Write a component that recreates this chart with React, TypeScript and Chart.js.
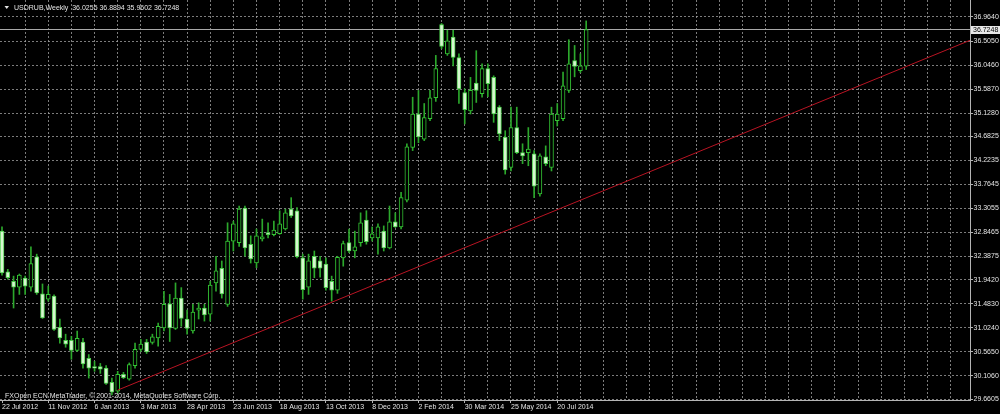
import React, { useEffect, useRef } from 'react';
import { Chart, registerables } from 'chart.js';

Chart.register(...registerables);

// Weekly USDRUB candles, oldest first (bar index = array index)
const opens = [
  32.87, 32.09, 31.91, 31.80, 31.97, 31.80, 32.38, 31.67, 31.57, 31.63,
  31.03, 30.78, 30.78, 30.59, 30.75, 30.44, 30.28, 30.28, 30.25, 29.98,
  29.81, 30.13, 30.04, 30.30, 30.61, 30.75, 30.74, 30.83, 31.02, 31.48,
  31.01, 31.59, 31.19, 30.96, 31.36, 31.40, 31.28, 31.88, 32.16, 31.47,
  32.68, 32.65, 33.31, 32.62, 32.26, 32.72, 32.84, 32.80, 32.82, 32.91,
  33.29, 33.26, 32.36, 31.80, 32.39, 32.30, 32.24, 31.91, 31.74, 32.36,
  32.65, 32.49, 32.65, 33.08, 32.74, 32.74, 32.87, 32.55, 33.05, 32.95,
  33.46, 34.47, 35.11, 34.63, 35.02, 35.42, 36.82, 36.26, 36.58, 36.19,
  35.52, 35.17, 35.70, 35.50, 35.98, 35.81, 35.24, 34.67, 34.09, 34.85,
  34.37, 34.37, 34.35, 33.58, 34.29, 34.09, 34.98, 35.02, 35.56, 36.13,
  35.94, 36.0255,
];
const highs = [
  32.95, 32.14, 32.01, 32.05, 32.01, 32.57, 32.43, 31.86, 31.82, 31.65,
  31.19, 30.90, 30.86, 30.96, 30.82, 30.51, 30.38, 30.34, 30.30, 30.06,
  30.19, 30.17, 30.35, 30.73, 30.80, 30.80, 30.90, 31.11, 31.72, 31.66,
  31.88, 31.79, 31.36, 31.47, 31.50, 31.47, 31.91, 32.39, 32.30, 33.03,
  33.06, 33.35, 33.35, 32.78, 32.91, 33.10, 33.03, 33.06, 33.26, 33.29,
  33.51, 33.32, 32.43, 32.43, 32.49, 32.39, 32.36, 32.01, 32.39, 32.68,
  32.91, 32.87, 33.22, 33.26, 32.95, 33.01, 32.97, 33.35, 33.22, 33.61,
  34.54, 35.43, 35.56, 35.31, 35.56, 36.23, 36.84, 36.71, 36.71, 36.26,
  35.59, 35.81, 36.32, 36.07, 36.07, 35.84, 35.27, 34.79, 35.24, 35.24,
  34.54, 34.85, 34.41, 34.35, 34.50, 35.24, 35.31, 35.91, 36.53, 36.42,
  36.26, 36.8894,
];
const lows = [
  32.03, 31.95, 31.40, 31.66, 31.66, 31.72, 31.66, 31.20, 31.53, 30.97,
  30.73, 30.65, 30.42, 30.57, 30.25, 30.06, 30.19, 30.15, 29.94, 29.74,
  29.77, 30.05, 30.02, 30.25, 30.57, 30.53, 30.71, 30.67, 30.96, 30.76,
  30.99, 31.05, 30.90, 30.92, 31.19, 31.15, 31.15, 31.72, 31.59, 31.43,
  32.49, 32.58, 32.39, 32.26, 32.17, 32.68, 32.74, 32.78, 32.81, 32.89,
  33.13, 32.36, 31.57, 31.66, 31.98, 31.99, 31.74, 31.53, 31.68, 32.20,
  32.46, 32.36, 32.58, 32.62, 32.68, 32.43, 32.49, 32.53, 32.94, 32.91,
  33.43, 34.41, 34.56, 34.60, 34.98, 35.35, 36.36, 36.23, 36.03, 35.31,
  34.92, 35.11, 35.33, 35.43, 35.44, 34.95, 34.60, 33.96, 34.02, 34.35,
  34.16, 34.12, 33.51, 33.54, 34.12, 34.02, 34.88, 34.98, 35.52, 35.82,
  35.90, 35.9602,
];
const closes = [
  32.07, 31.98, 31.80, 32.03, 31.82, 32.25, 31.69, 31.21, 31.66, 30.99,
  30.83, 30.71, 30.59, 30.82, 30.33, 30.25, 30.25, 30.23, 29.96, 29.79,
  30.13, 30.07, 30.32, 30.61, 30.71, 30.56, 30.85, 31.05, 31.47, 31.02,
  31.59, 31.20, 31.01, 31.32, 31.40, 31.27, 31.84, 32.11, 31.67, 32.68,
  33.01, 33.29, 32.55, 32.34, 32.78, 32.76, 32.80, 32.89, 33.01, 33.22,
  33.16, 32.38, 31.75, 32.30, 32.16, 32.16, 31.79, 31.74, 32.37, 32.63,
  32.49, 32.57, 33.03, 32.67, 32.82, 32.95, 32.55, 33.05, 32.95, 33.51,
  34.48, 35.11, 34.67, 35.04, 35.42, 35.98, 36.40, 36.51, 36.19, 35.59,
  35.19, 35.56, 35.56, 35.98, 35.69, 35.11, 34.73, 34.04, 34.85, 34.37,
  34.31, 34.44, 33.73, 34.31, 34.16, 35.11, 35.11, 35.65, 36.07, 36.02,
  36.03, 36.7248,
];

// Time axis: labelled bars and their dates
const xTickBars = [0, 8, 16, 24, 32, 40, 48, 56, 64, 72, 80, 88, 96];
const xTickLabels = [
  '22 Jul 2012', '11 Nov 2012', '6 Jan 2013', '3 Mar 2013', '28 Apr 2013',
  '23 Jun 2013', '18 Aug 2013', '13 Oct 2013', '8 Dec 2013', '2 Feb 2014',
  '30 Mar 2014', '25 May 2014', '20 Jul 2014',
];
const xGridStep = 4;
const xGridLast = 164;

// Price axis tick values
const yTickValues = [
  36.9640, 36.5050, 36.0460, 35.5870, 35.1280, 34.6825, 34.2235, 33.7645,
  33.3055, 32.8465, 32.3875, 31.9420, 31.4830, 31.0240, 30.5650, 30.1060, 29.6605,
];

// Trend line (bar index, price) and current price
const trendBars = [20, 167.4];
const trendPrices = [29.83, 36.52];
const currentPrice = 36.7248;

const titleText = 'USDRUB,Weekly  36.0255 36.8894 35.9602 36.7248';
const copyrightText = 'FXOpen ECN MetaTrader, \u00A9 2001-2014, MetaQuotes Software Corp.';

const X_MIN = -0.3458;
const X_MAX = 167.36;
const Y_MIN = 29.6414;
const Y_MAX = 37.289;

const FONT = '"Liberation Sans", Arial, sans-serif';
const GRID = 'rgba(165,165,165,0.75)';
const AXIS = '#b4b4b4';
const TEXT = '#e4e4e4';

export default function App() {
  const ref = useRef<HTMLCanvasElement>(null);

  useEffect(() => {
    const canvas = ref.current;
    if (!canvas) return;

    const wicks: any[] = [];
    const bull: any[] = [];
    const bear: any[] = [];
    opens.forEach((o, i) => {
      const c = closes[i];
      wicks.push({ x: i, y: [lows[i], highs[i]] });
      if (c >= o) bull.push({ x: i, y: [o, c] });
      else bear.push({ x: i, y: [o, c] });
    });

    const overlay = {
      id: 'mt4overlay',
      afterDraw(chart: any) {
        const ctx = chart.ctx;
        const ys = chart.scales.y;
        const area = chart.chartArea;
        ctx.save();
        // title
        ctx.fillStyle = TEXT;
        ctx.beginPath();
        ctx.moveTo(4.5, 6);
        ctx.lineTo(9, 6);
        ctx.lineTo(6.75, 9);
        ctx.closePath();
        ctx.fill();
        ctx.font = `7px ${FONT}`;
        ctx.textBaseline = 'alphabetic';
        ctx.textAlign = 'left';
        ctx.fillText(titleText, 14, 9.8);
        ctx.fillText(copyrightText, 5, 397.5);
        // current price box
        const py = Math.round(ys.getPixelForValue(currentPrice));
        ctx.fillStyle = '#e8e8e8';
        ctx.fillRect(area.right + 1, py - 4, 1000 - area.right - 1, 8);
        ctx.fillStyle = '#000';
        ctx.textBaseline = 'middle';
        ctx.fillText(currentPrice.toFixed(4), area.right + 3, py + 0.5);
        ctx.restore();
      },
    };

    const chart = new Chart(canvas, {
      type: 'bar',
      data: {
        datasets: [
          {
            type: 'line',
            data: [
              { x: trendBars[0], y: trendPrices[0] },
              { x: trendBars[1], y: trendPrices[1] },
            ],
            borderColor: 'rgb(185,20,35)',
            borderWidth: 1,
            pointRadius: 0,
            order: 0,
          } as any,
          {
            data: bear,
            backgroundColor: '#d6f7cf',
            borderColor: '#4ccc4c',
            borderWidth: 1,
            borderSkipped: false,
            barThickness: 4,
            grouped: false,
            order: 1,
          } as any,
          {
            data: bull,
            backgroundColor: '#000000',
            borderColor: '#33c433',
            borderWidth: 1,
            borderSkipped: false,
            barThickness: 4,
            grouped: false,
            order: 1,
          } as any,
          {
            data: wicks,
            backgroundColor: '#2ca82c',
            borderWidth: 0,
            barThickness: 1,
            grouped: false,
            order: 2,
          } as any,
          {
            type: 'line',
            data: [
              { x: X_MIN, y: currentPrice },
              { x: X_MAX, y: currentPrice },
            ],
            borderColor: '#a8a8a8',
            borderWidth: 1,
            pointRadius: 0,
            order: 3,
          } as any,
        ],
      },
      options: {
        animation: false,
        responsive: false,
        devicePixelRatio: 1,
        events: [],
        layout: { padding: 0 },
        plugins: { legend: { display: false }, tooltip: { enabled: false }, title: { display: false } },
        scales: {
          x: {
            type: 'linear',
            min: X_MIN,
            max: X_MAX,
            offset: false,
            position: 'bottom',
            afterBuildTicks: (scale: any) => {
              const t: any[] = [];
              for (let v = 0; v <= xGridLast; v += xGridStep) t.push({ value: v });
              scale.ticks = t;
            },
            afterFit: (scale: any) => {
              scale.height = 14;
              scale.paddingLeft = 0;
              scale.paddingRight = 0;
            },
            grid: {
              offset: false,
              color: (c: any) => (c.tick && c.tick.value === 0 ? 'rgba(0,0,0,0)' : GRID),
              lineWidth: 1,
              tickLength: 3,
              tickColor: (c: any) => (c.tick && xTickBars.indexOf(c.tick.value) >= 0 ? AXIS : 'rgba(0,0,0,0)'),
            },
            border: { display: true, color: AXIS, width: 1, dash: [2, 2] },
            ticks: {
              autoSkip: false,
              maxRotation: 0,
              minRotation: 0,
              align: 'start',
              padding: 0,
              color: TEXT,
              font: { family: FONT, size: 7 },
              callback: (v: any) => {
                const k = xTickBars.indexOf(Number(v));
                return k >= 0 ? xTickLabels[k] : '';
              },
            },
          },
          y: {
            type: 'linear',
            position: 'right',
            min: Y_MIN,
            max: Y_MAX,
            afterBuildTicks: (scale: any) => {
              scale.ticks = yTickValues.map((v) => ({ value: v }));
            },
            afterFit: (scale: any) => {
              scale.width = 30;
              scale.paddingTop = 0;
              scale.paddingBottom = 0;
            },
            grid: {
              color: GRID,
              lineWidth: 1,
              tickLength: 3,
              tickColor: AXIS,
            },
            border: { display: true, color: AXIS, width: 1, dash: [2, 2] },
            ticks: {
              padding: 0.5,
              color: TEXT,
              font: { family: FONT, size: 7 },
              callback: (v: any) => Number(v).toFixed(4),
            },
          },
        },
      } as any,
      plugins: [overlay],
    });

    return () => chart.destroy();
  }, []);

  return (
    <div style={{ position: 'fixed', left: 0, top: 0, width: 1000, height: 414, background: '#000' }}>
      <canvas ref={ref} width={1000} height={414} style={{ display: 'block' }} />
    </div>
  );
}
